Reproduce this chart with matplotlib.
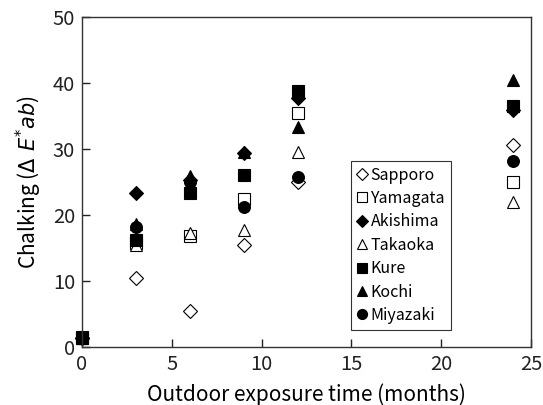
import matplotlib
matplotlib.use('Agg')
import matplotlib.pyplot as plt

plt.rcParams['font.family'] = ['Noto Sans CJK JP', 'DejaVu Sans']
plt.rcParams['mathtext.fontset'] = 'dejavusans'

months = [0, 3, 6, 9, 12, 24]

sites = ['Sapporo', 'Yamagata', 'Akishima', 'Takaoka', 'Kure', 'Kochi', 'Miyazaki']
sapporo = [1.3, 10.5, 5.4, 15.4, 25.0, 30.7]
yamagata = [1.3, 15.7, 16.8, 22.5, 35.5, 25.0]
akishima = [1.3, 23.3, 25.3, 29.4, 37.8, 35.9]
takaoka = [1.3, 15.5, 17.2, 17.7, 29.6, 22.0]
kure = [1.4, 16.2, 23.4, 26.1, 38.8, 36.5]
kochi = [1.3, 18.6, 25.9, 29.6, 33.4, 40.5]
miyazaki = [1.3, 18.1, 25.0, 21.2, 25.7, 28.2]

values = [sapporo, yamagata, akishima, takaoka, kure, kochi, miyazaki]
markers = ['D', 's', 'D', '^', 's', '^', 'o']
filled = [False, False, True, False, True, True, True]
sizes = [7, 8.5, 7.5, 8.5, 8.5, 9, 8.5]

fig = plt.figure(figsize=(5.43, 4.05), dpi=100)
ax = fig.add_axes([0.151, 0.144, 0.827, 0.813])

for name, vals, m, f, s in zip(sites, values, markers, filled, sizes):
    ax.plot(months, vals, linestyle='none', marker=m, markersize=s,
            markerfacecolor='black' if f else 'white',
            markeredgecolor='black', markeredgewidth=0.8,
            label=name, clip_on=False)

ax.set_xlim(0, 25)
ax.set_ylim(0, 50)
ax.set_xticks([0, 5, 10, 15, 20, 25])
ax.set_yticks([0, 10, 20, 30, 40, 50])
ax.tick_params(direction='in', length=6, width=1, labelsize=14.5,
               top=False, right=False, colors='#222222')
ax.tick_params(axis='x', pad=5)
ax.tick_params(axis='y', pad=5)
for sp in ax.spines.values():
    sp.set_linewidth(1)
    sp.set_color('#333333')

ax.set_xlabel('Outdoor exposure time (months)', fontsize=15, labelpad=6)
ax.set_ylabel(r'Chalking ($\Delta\ E^{*}ab$)', fontsize=15, labelpad=6)

leg = ax.legend(loc='lower left', bbox_to_anchor=(0.598, 0.052),
                fontsize=11.5, frameon=True, fancybox=False,
                edgecolor='black', handlelength=0.7, handletextpad=0.2,
                borderpad=0.35, labelspacing=0.4, borderaxespad=0,
                markerscale=0.85)
leg.get_frame().set_linewidth(0.8)

fig.savefig('out.png', dpi=100)
